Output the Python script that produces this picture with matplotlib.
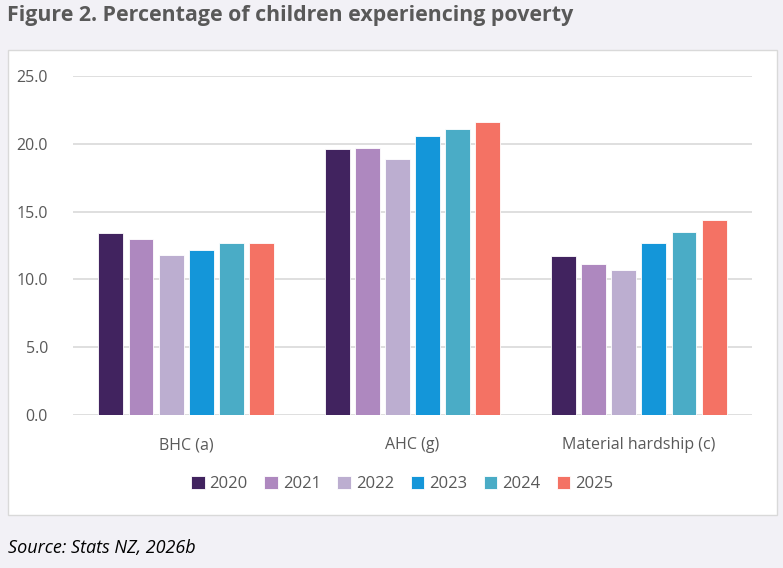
import matplotlib
matplotlib.use("Agg")
import matplotlib.pyplot as plt
from matplotlib.patches import Rectangle
import numpy as np

categories = ["BHC (a)", "AHC (g)", "Material hardship (c)"]
years = ["2020", "2021", "2022", "2023", "2024", "2025"]
values = {
    "2020": [13.4, 19.6, 11.7],
    "2021": [13.0, 19.7, 11.1],
    "2022": [11.8, 18.9, 10.7],
    "2023": [12.2, 20.6, 12.7],
    "2024": [12.7, 21.1, 13.5],
    "2025": [12.7, 21.6, 14.4],
}
colours = ["#41235f", "#ae88bf", "#bcaed0", "#1496d9", "#4aacc6", "#f47264"]

plt.rcParams["font.family"] = ["Open Sans", "DejaVu Sans"]

fig = plt.figure(figsize=(7.83, 5.68), dpi=100)
fig.patch.set_facecolor("#f2f1f6")

# white chart panel behind the axes
panel = Rectangle((8 / 783, 1 - 515 / 568), 769 / 783, 465 / 568,
                  transform=fig.transFigure, facecolor="white",
                  edgecolor="#d9d9d9", linewidth=1, zorder=-10)
fig.patches.append(panel)

ax = fig.add_axes([73 / 783, 1 - 415 / 568, 679 / 783, 339 / 568])
ax.set_zorder(2)
ax.patch.set_alpha(0)

x = np.arange(len(categories))
width = 0.11
pitch = 0.133
for i, (yr, col) in enumerate(zip(years, colours)):
    ax.bar(x + (i - 2.5) * pitch, values[yr], width, color=col,
           edgecolor="white", linewidth=0.6, label=yr, zorder=3)

ax.set_xlim(-0.5, 2.5)
ax.set_ylim(0, 25)
ax.set_yticks(np.arange(0, 25.1, 5))
ax.set_yticklabels(["%.1f" % v for v in np.arange(0, 25.1, 5)])
ax.set_xticks(x)
ax.set_xticklabels(categories)
ax.tick_params(axis="both", length=0, labelsize=11.5, colors="#595959")
ax.tick_params(axis="x", pad=16)
ax.tick_params(axis="y", pad=18)
ax.grid(axis="y", color="#d9d9d9", linewidth=1.2, zorder=0)
for s in ax.spines.values():
    s.set_visible(False)

ax.legend(loc="upper center", bbox_to_anchor=(0.485, -0.135), ncol=6,
          frameon=False, fontsize=12, handlelength=0.8, handleheight=0.8,
          handletextpad=0.3, columnspacing=1.0, labelcolor="#595959")

fig.text(7 / 783, 1 - 16 / 568, "Figure 2. Percentage of children experiencing poverty",
         fontsize=15.4, fontweight="bold", color="#595959", va="center", ha="left")
fig.text(8 / 783, 1 - 548 / 568, "Source: Stats NZ, 2026b",
         fontsize=13, style="italic", color="black", va="center", ha="left")

fig.savefig("out.png", dpi=100, facecolor=fig.get_facecolor())
